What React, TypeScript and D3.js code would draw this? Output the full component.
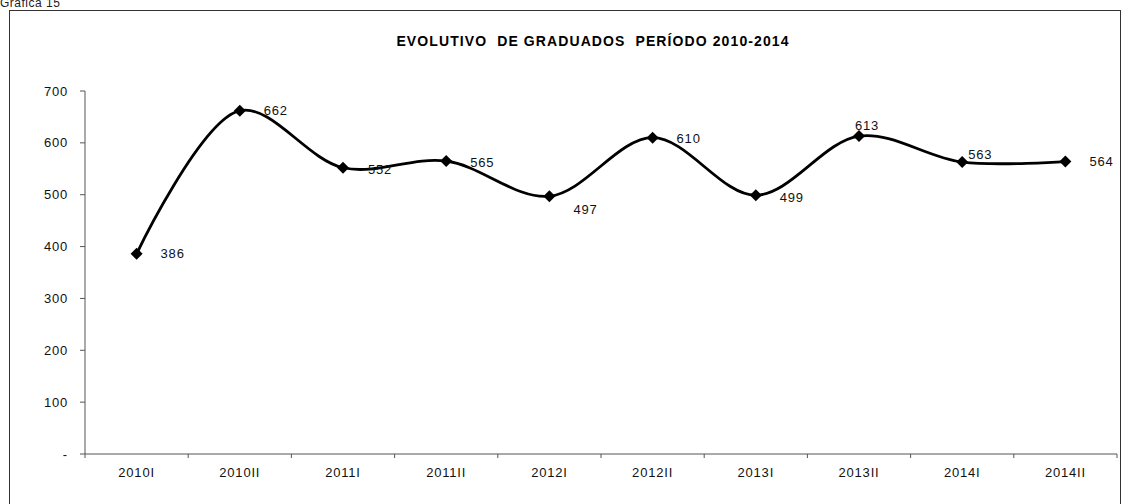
import React from 'react'
import * as d3 from 'd3'

const periods = ['2010I', '2010II', '2011I', '2011II', '2012I', '2012II', '2013I', '2013II', '2014I', '2014II']
const graduados = [386, 662, 552, 565, 497, 610, 499, 613, 563, 564]
const yTicks = [0, 100, 200, 300, 400, 500, 600, 700]

// nudges of the value labels, as placed in the original
const labelDx = [24, 24, 25, 24, 24, 24, 24, -4, 6, 24]
const labelDy = [0, 0, 2, 1, 13, 1, 2, -11, -8, 0]

const W = 1122
const H = 504
const left = 85
const right = 1117
const font = '"Liberation Sans", Arial, sans-serif'
const ls = 0.8

function App() {
  const x = d3.scaleBand().domain(periods).range([left, right])
  const y = d3.scaleLinear().domain([0, 700]).range([454, 91])
  const cx = (p: string) => (x(p) as number) + x.bandwidth() / 2

  const line = d3
    .line<number>()
    .x((_, i) => cx(periods[i]))
    .y((d) => y(d))
    .curve(d3.curveCatmullRom.alpha(0.5))

  const diamond = d3.symbol(d3.symbolSquare, 72)()

  return (
    <svg width={W} height={H} style={{ position: 'absolute', left: 0, top: 0, background: '#fff' }} fontFamily={font}>
      <text x={0} y={7} fontSize={12} fill="#222" letterSpacing={0.5}>Gráfica 15</text>
      <rect x={9.5} y={10.5} width={1111} height={520} fill="none" stroke="#333" strokeWidth={1} />

      <text x={593} y={46} textAnchor="middle" fontSize={14} fontWeight="bold" fill="#000" letterSpacing={1.1} style={{ whiteSpace: 'pre' }}>
        {'EVOLUTIVO  DE GRADUADOS  PERÍODO 2010-2014'}
      </text>

      {/* y axis */}
      <line x1={left} x2={left} y1={y(700)} y2={y(0)} stroke="#555" />
      {yTicks.map((t) => (
        <g key={t}>
          <line x1={left - 5} x2={left} y1={y(t)} y2={y(t)} stroke="#555" />
          <text x={68} y={y(t)} dy="0.35em" textAnchor="end" fontSize={13} letterSpacing={ls} fill="#111">
            {t === 0 ? '-' : t}
          </text>
        </g>
      ))}

      {/* x axis */}
      <line x1={left} x2={right} y1={y(0)} y2={y(0)} stroke="#555" />
      {periods.map((p) => (
        <line key={'t' + p} x1={x(p)} x2={x(p)} y1={y(0)} y2={y(0) + 4} stroke="#555" />
      ))}
      <line x1={right} x2={right} y1={y(0)} y2={y(0) + 4} stroke="#555" />
      {periods.map((p) => (
        <text key={'l' + p} x={cx(p)} y={472} dy="0.35em" textAnchor="middle" fontSize={13} letterSpacing={ls} fill="#111">
          {p}
        </text>
      ))}

      <path d={line(graduados) || ''} fill="none" stroke="#000" strokeWidth={2.8} />

      {graduados.map((v, i) => (
        <path
          key={'m' + i}
          d={diamond || ''}
          transform={`translate(${cx(periods[i])},${y(v)}) rotate(45)`}
          fill="#000"
        />
      ))}

      {graduados.map((v, i) => (
        <text
          key={'v' + i}
          x={cx(periods[i]) + labelDx[i]}
          y={y(v) + labelDy[i]}
          dy="0.35em"
          fontSize={13}
          letterSpacing={ls}
          fill="#111"
        >
          {v}
        </text>
      ))}
    </svg>
  )
}

export default App
